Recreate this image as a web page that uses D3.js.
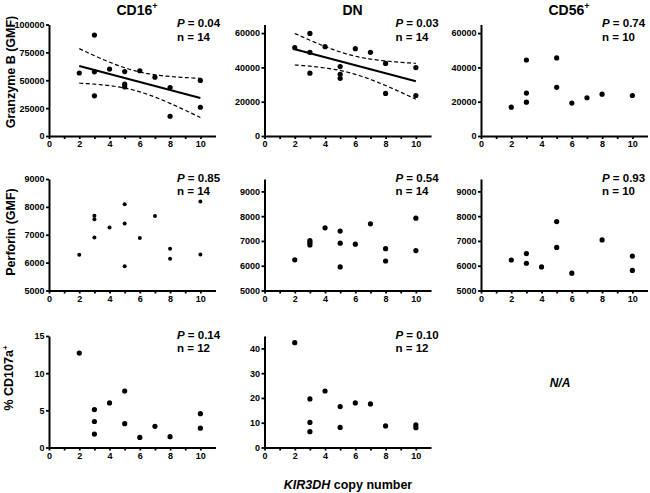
<!DOCTYPE html>
<html><head><meta charset="utf-8">
<script src="https://cdn.jsdelivr.net/npm/d3@7"></script>
<style>
body{margin:0;background:#fff}
svg{display:block}
text{font-family:"Liberation Sans",Arial,Helvetica,sans-serif;font-weight:bold;fill:#000}
</style>
</head><body>
<script>
// ---- data ----
const columns = ["CD16", "DN", "CD56"];
const columnSup = ["+", "", "+"];
const rowLabels = ["Granzyme B (GMF)", "Perforin (GMF)", "% CD107a"];
const xTitleItalic = "KIR3DH";
const xTitleRest = " copy number";

const xTickLabels = [0, 2, 4, 6, 8, 10];
const xMinorTicks = [1, 3, 5, 7, 9];

const xGzbCD16 = [2, 3, 3, 3, 4, 5, 5, 5, 6, 7, 8, 8, 10, 10];
const yGzbCD16 = [56500, 90500, 57600, 36000, 60000, 57800, 46500, 44000, 58500, 52800, 43500, 17700, 49800, 25800];
const xGzbDN = [2, 3, 3, 3, 4, 5, 5, 5, 6, 7, 8, 8, 10, 10];
const yGzbDN = [51500, 59800, 48800, 36600, 52100, 40500, 36000, 33600, 50900, 48800, 42300, 24800, 39900, 23600];
const xGzbCD56 = [2, 3, 3, 3, 5, 5, 6, 7, 8, 10];
const yGzbCD56 = [16800, 44300, 25000, 19700, 45500, 28400, 19200, 22300, 24400, 23600];

const xPerfCD16 = [2, 3, 3, 3, 4, 5, 5, 5, 6, 7, 8, 8, 10, 10];
const yPerfCD16 = [6280, 7680, 7560, 6900, 7260, 8090, 7400, 5870, 6880, 7670, 6500, 6140, 8190, 6290];
const xPerfDN = [2, 3, 3, 3, 4, 5, 5, 5, 6, 7, 8, 8, 10, 10];
const yPerfDN = [6240, 7010, 6930, 6840, 7530, 7400, 6910, 5950, 6870, 7690, 6690, 6190, 7920, 6610];
const xPerfCD56 = [2, 3, 3, 4, 5, 5, 6, 8, 10, 10];
const yPerfCD56 = [6230, 6490, 6100, 5950, 7780, 6740, 5700, 7040, 6390, 5810];

const xCD107CD16 = [2, 3, 3, 3, 4, 5, 5, 6, 7, 8, 10, 10];
const yCD107CD16 = [12.7, 5.1, 3.5, 1.8, 6.0, 7.6, 3.2, 1.35, 2.85, 1.45, 4.55, 2.6];
const xCD107DN = [2, 3, 3, 3, 4, 5, 5, 6, 7, 8, 10, 10];
const yCD107DN = [42.3, 19.6, 10.1, 6.4, 22.8, 16.5, 8.1, 18.0, 17.6, 8.7, 9.1, 8.0];

const yTicksGzbCD16 = [0, 25000, 50000, 75000, 100000];
const yTicksGzb = [0, 20000, 40000, 60000];
const yTicksPerf = [5000, 6000, 7000, 8000, 9000];
const yTicksCD107CD16 = [0, 5, 10, 15];
const yTicksCD107DN = [0, 10, 20, 30, 40];

const pValues = ["0.04", "0.03", "0.74", "0.85", "0.54", "0.93", "0.14", "0.10"];
const nValues = [14, 14, 10, 14, 14, 10, 12, 12];
const naLabel = "N/A";

// ---- layout ----
const W = 650, H = 493;
const colX = [49, 264.5, 481];
const rowBottom = [136, 290.5, 447.5];
const pw = 166.5, ph = 111.5;
const statX = [128, 131, 121];

const panels = [
  {r:0,c:0,x:xGzbCD16,y:yGzbCD16,dom:[0,100000],ticks:yTicksGzbCD16,fit:true,rad:2.6},
  {r:0,c:1,x:xGzbDN,y:yGzbDN,dom:[0,65000],ticks:yTicksGzb,fit:true,rad:2.6},
  {r:0,c:2,x:xGzbCD56,y:yGzbCD56,dom:[0,65000],ticks:yTicksGzb,fit:false,rad:2.6},
  {r:1,c:0,x:xPerfCD16,y:yPerfCD16,dom:[5000,9000],ticks:yTicksPerf,fit:false,rad:2.0},
  {r:1,c:1,x:xPerfDN,y:yPerfDN,dom:[5000,9500],ticks:yTicksPerf,fit:false,rad:2.6},
  {r:1,c:2,x:xPerfCD56,y:yPerfCD56,dom:[5000,9500],ticks:yTicksPerf,fit:false,rad:2.6},
  {r:2,c:0,x:xCD107CD16,y:yCD107CD16,dom:[0,15],ticks:yTicksCD107CD16,fit:false,rad:2.6},
  {r:2,c:1,x:xCD107DN,y:yCD107DN,dom:[0,45],ticks:yTicksCD107DN,fit:false,rad:2.6}
];

const svg = d3.select("body").append("svg").attr("width", W).attr("height", H);

panels.forEach((p, i) => {
  const g = svg.append("g").attr("transform", `translate(${colX[p.c]},${rowBottom[p.r] - ph})`);
  const x = d3.scaleLinear().domain([0, 11]).range([0, pw]);
  const y = d3.scaleLinear().domain(p.dom).range([ph, 0]);

  // regression + 95% CI
  if (p.fit) {
    const n = p.x.length;
    const mx = d3.mean(p.x), my = d3.mean(p.y);
    let sxx = 0, sxy = 0;
    p.x.forEach((xi, k) => { sxx += (xi - mx) ** 2; sxy += (xi - mx) * (p.y[k] - my); });
    const b = sxy / sxx, a = my - b * mx;
    let sse = 0;
    p.x.forEach((xi, k) => { sse += (p.y[k] - (a + b * xi)) ** 2; });
    const s = Math.sqrt(sse / (n - 2));
    const t = 2.179;
    const xs = d3.range(0, 81).map(k => 2 + k * 0.1);
    const hw = xv => t * s * Math.sqrt(1 / n + (xv - mx) ** 2 / sxx);
    const line = d3.line().x(d => x(d[0])).y(d => y(d[1]));
    g.append("path").attr("d", line(xs.map(v => [v, a + b * v + hw(v)])))
      .attr("fill", "none").attr("stroke", "#000").attr("stroke-width", 1.2).attr("stroke-dasharray", "4,2.5");
    g.append("path").attr("d", line(xs.map(v => [v, a + b * v - hw(v)])))
      .attr("fill", "none").attr("stroke", "#000").attr("stroke-width", 1.2).attr("stroke-dasharray", "4,2.5");
    g.append("path").attr("d", line([[2, a + b * 2], [10, a + b * 10]]))
      .attr("fill", "none").attr("stroke", "#000").attr("stroke-width", 2);
  }

  // axes
  const xa = g.append("g").attr("transform", `translate(0,${ph})`)
    .call(d3.axisBottom(x).tickValues(xTickLabels).tickSize(3).tickSizeOuter(0).tickPadding(2).tickFormat(d3.format("d")));
  const xm = g.append("g").attr("transform", `translate(0,${ph})`)
    .call(d3.axisBottom(x).tickValues(xMinorTicks).tickSize(3).tickSizeOuter(0).tickFormat(""));
  xm.select(".domain").remove();
  const ya = g.append("g")
    .call(d3.axisLeft(y).tickValues(p.ticks).tickSize(3).tickSizeOuter(0).tickPadding(1.5).tickFormat(d3.format("d")));
  [xa, xm, ya].forEach(ax => {
    ax.selectAll("path,line").attr("stroke", "#000").attr("stroke-width", 1.8);
    ax.selectAll("text").attr("font-size", "9px").attr("font-weight", "bold").attr("fill", "#000")
      .style("font-family", '"Liberation Sans",Arial,sans-serif');
  });
  xa.select(".domain").attr("stroke-width", 2);
  ya.select(".domain").attr("stroke-width", 2);

  // dots
  g.selectAll("circle.pt").data(p.x.map((xi, k) => [xi, p.y[k]])).join("circle")
    .attr("class", "pt").attr("cx", d => x(d[0])).attr("cy", d => y(d[1])).attr("r", p.rad).attr("fill", "#000");

  // stats
  const st = svg.append("text").attr("x", colX[p.c] + statX[p.c]).attr("y", rowBottom[p.r] - ph + 2.5).attr("font-size", "11.5px");
  st.append("tspan").attr("font-style", "italic").text("P");
  st.append("tspan").text(" = " + pValues[i]);
  svg.append("text").attr("x", colX[p.c] + statX[p.c]).attr("y", rowBottom[p.r] - ph + 16).attr("font-size", "11.5px")
    .text("n = " + nValues[i]);
});

// column titles
columns.forEach((c, i) => {
  const t = svg.append("text").attr("x", colX[i] + 88).attr("y", 14.5).attr("text-anchor", "middle").attr("font-size", "14px");
  t.append("tspan").text(c);
  if (columnSup[i]) t.append("tspan").attr("font-size", "9px").attr("dy", "-6").text(columnSup[i]);
});

// row labels
const rowLabelPos = [[14.5, 72], [14.5, 232], [12.5, 378]];
rowLabels.forEach((l, i) => {
  const t = svg.append("text").attr("transform", `translate(${rowLabelPos[i][0]},${rowLabelPos[i][1]}) rotate(-90)`)
    .attr("text-anchor", "middle").attr("font-size", "12.5px");
  t.append("tspan").text(l);
  if (i === 2) t.append("tspan").attr("font-size", "8px").attr("dy", "-5").text("+");
});

// x title
const xt = svg.append("text").attr("x", 348).attr("y", 489).attr("text-anchor", "middle").attr("font-size", "12.5px");
xt.append("tspan").attr("font-style", "italic").text(xTitleItalic);
xt.append("tspan").text(xTitleRest);

// N/A
svg.append("text").attr("x", 560).attr("y", 387).attr("text-anchor", "middle").attr("font-size", "12px")
  .attr("font-style", "italic").text(naLabel);
</script>
</body></html>
